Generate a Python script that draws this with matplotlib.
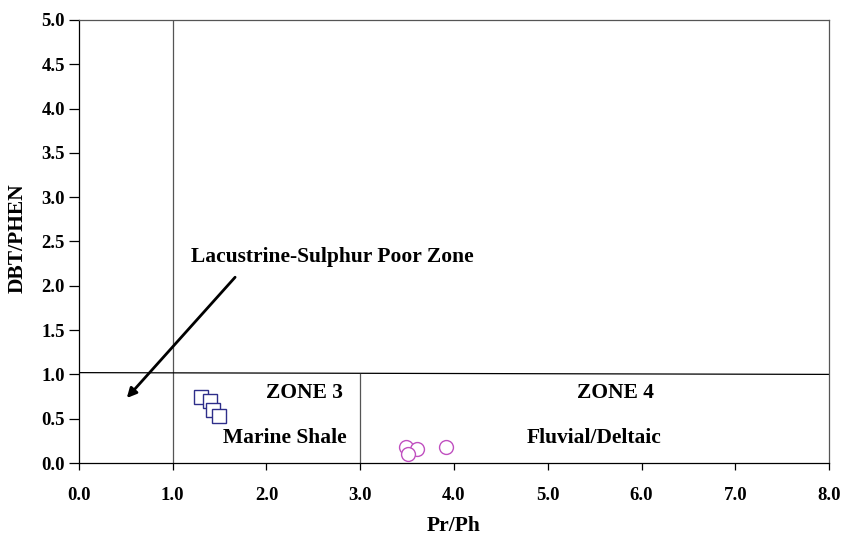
import matplotlib
matplotlib.use('Agg')
import matplotlib.pyplot as plt
import numpy as np

# Marine shale samples (zone 3)
shale_prph = [1.30, 1.40, 1.43, 1.49]
shale_dbt = [0.745, 0.705, 0.60, 0.536]

# Fluvial/deltaic samples (zone 4)
delta_prph = [3.49, 3.61, 3.51, 3.91]
delta_dbt = [0.175, 0.16, 0.107, 0.186]

xticks = np.arange(0, 8.01, 1.0)
yticks = np.arange(0, 5.01, 0.5)

plt.rcParams['font.family'] = ['Liberation Serif', 'DejaVu Serif']
plt.rcParams['font.weight'] = 'bold'

fig = plt.figure(figsize=(8.43, 5.37), dpi=100)
ax = fig.add_axes([0.0937, 0.1378, 0.8897, 0.825])

# zone boundaries
ax.plot([1, 1], [0, 5], color='#555555', lw=0.9)
ax.plot([0, 8], [1.02, 1.0], color='black', lw=0.9)
ax.plot([3, 3], [0, 1.0], color='#555555', lw=0.9)

ax.plot(shale_prph, shale_dbt, 's', ms=10, mfc='white', mec='#2e2e8a', mew=1.0, ls='none')
ax.plot(delta_prph, delta_dbt, 'o', ms=10, mfc='white', mec='#c050c0', mew=1.0, ls='none')

ax.annotate('', xy=(0.49, 0.71), xytext=(1.685, 2.12),
            arrowprops=dict(arrowstyle='-|>', color='black', lw=2, mutation_scale=14))
fs = 15.5
ax.text(1.19, 2.33, 'Lacustrine-Sulphur Poor Zone', fontsize=fs, fontweight='bold', va='center', ha='left')
ax.text(2.41, 0.79, 'ZONE 3', fontsize=fs, fontweight='bold', va='center', ha='center')
ax.text(2.2, 0.28, 'Marine Shale', fontsize=fs, fontweight='bold', va='center', ha='center')
ax.text(5.72, 0.79, 'ZONE 4', fontsize=fs, fontweight='bold', va='center', ha='center')
ax.text(5.49, 0.28, 'Fluvial/Deltaic', fontsize=fs, fontweight='bold', va='center', ha='center')

ax.set_xlim(0, 8)
ax.set_ylim(0, 5)
ax.set_xticks(xticks)
ax.set_yticks(yticks)
ax.set_xticklabels(['%.1f' % v for v in xticks], fontsize=13.5, fontweight='bold')
ax.set_yticklabels(['%.1f' % v for v in yticks], fontsize=13.5, fontweight='bold')
ax.tick_params(axis='x', direction='out', length=5, width=0.9, pad=12)
ax.tick_params(axis='y', direction='out', length=7, width=0.9, pad=3)
for side in ['left', 'bottom']:
    ax.spines[side].set_color('black')
for side in ['top', 'right']:
    ax.spines[side].set_color('#555555')
for s in ax.spines.values():
    s.set_linewidth(0.9)

ax.set_xlabel('Pr/Ph', fontsize=fs, fontweight='bold')
ax.set_ylabel('DBT/PHEN', fontsize=fs, fontweight='bold')
ax.xaxis.set_label_coords(0.5, -0.119)
ax.yaxis.set_label_coords(-0.069, 0.508)

fig.savefig('out.png', dpi=100)
